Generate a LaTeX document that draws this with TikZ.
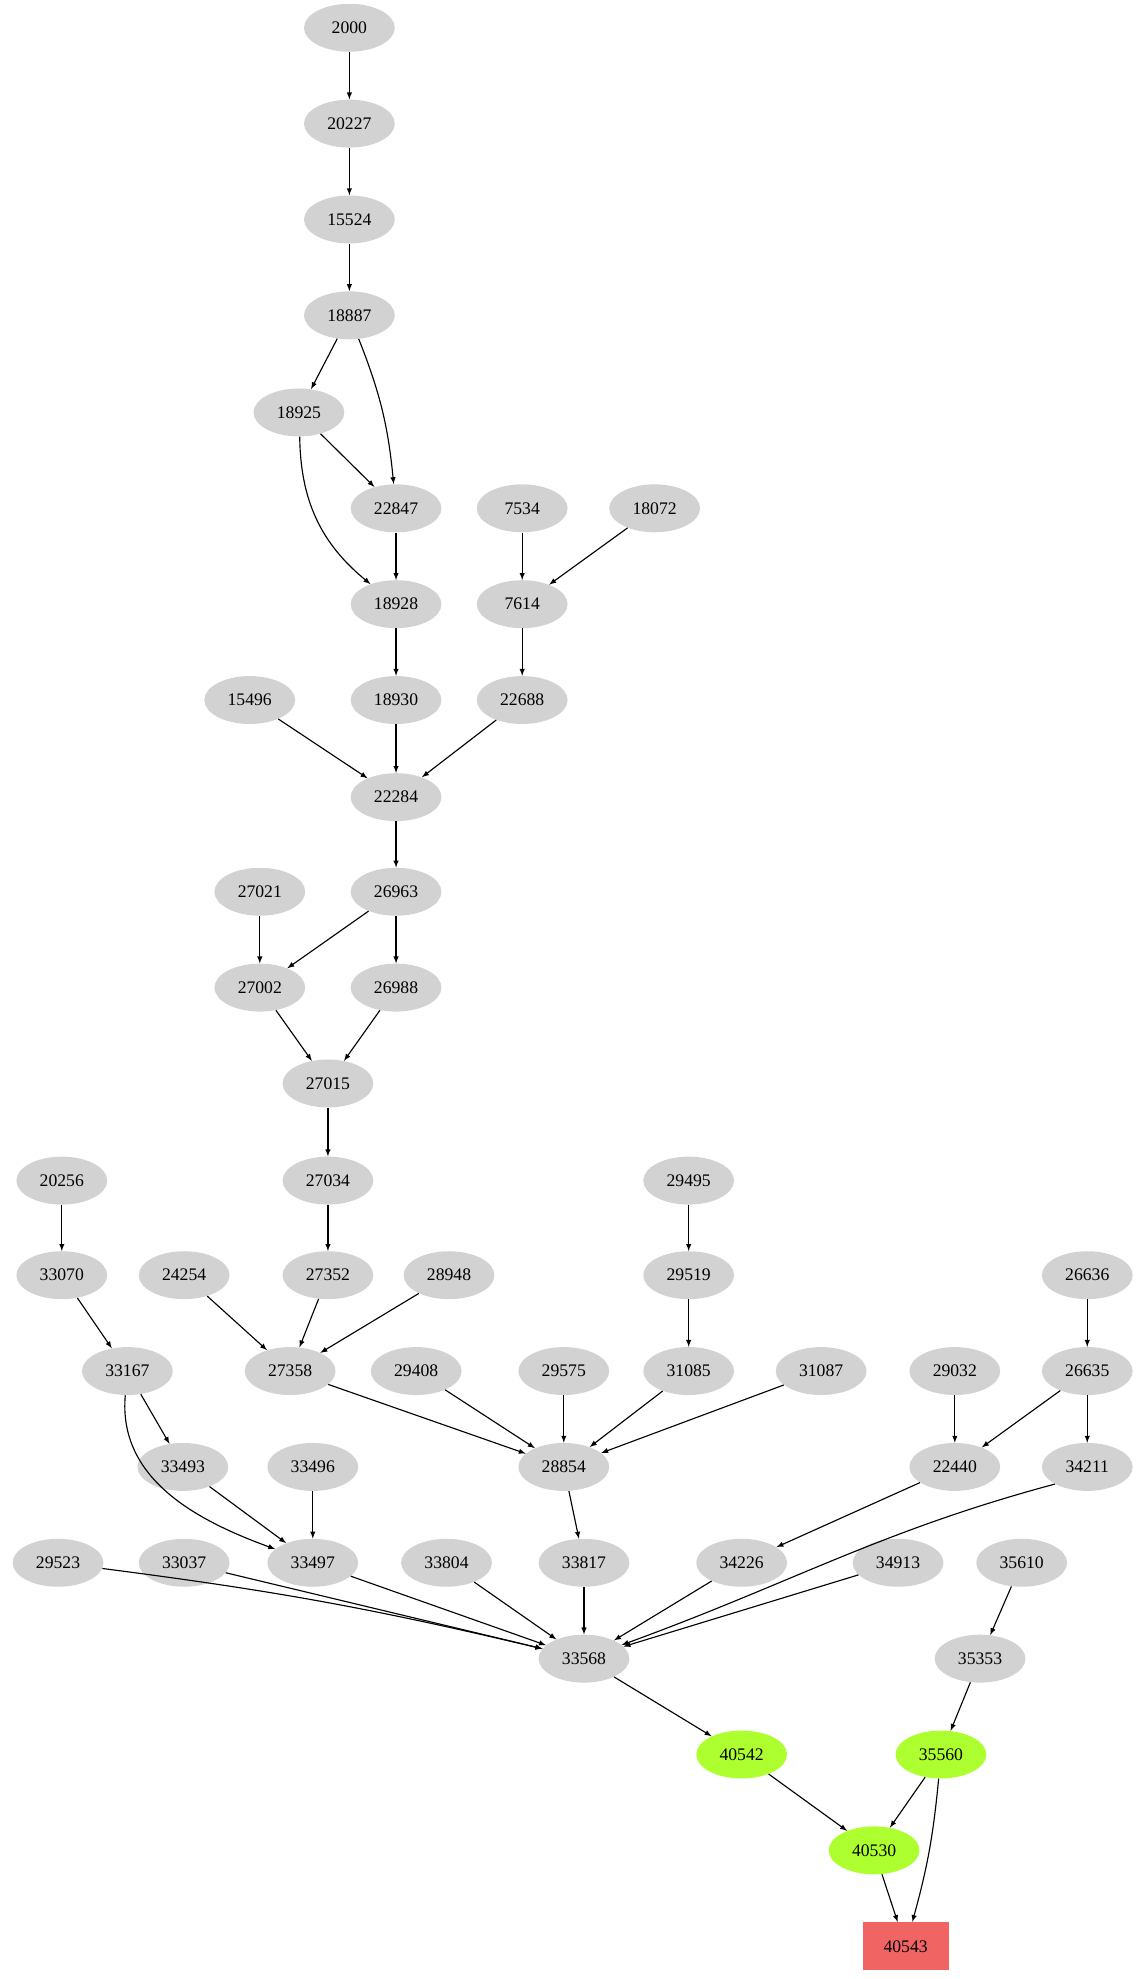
\documentclass[tikz,border=0pt]{standalone}
\usepackage{fontspec}
\setmainfont{Liberation Serif}
\usetikzlibrary{shapes.geometric}
\tikzset{
  gnode/.style={ellipse, fill=gray!35, minimum width=72pt, minimum height=38pt, inner sep=0pt, font=\fontsize{14}{16}\selectfont},
  hit/.style={gnode, fill={rgb,255:red,173;green,255;blue,47}},
  goal/.style={rectangle, fill={rgb,255:red,240;green,100;blue,100}, minimum width=68pt, minimum height=38pt, inner sep=0pt, font=\fontsize{14}{16}\selectfont},
  edge/.style={-latex, line width=0.9pt}
}
\begin{document}
\begin{tikzpicture}[x=1pt, y=-1pt]
            \useasboundingbox (0,0) rectangle (908,1569);
            % nodes, row by row
            \node[gnode] (n2000) at (277,22) {2000};
            \node[gnode] (n20227) at (277,98) {20227};
            \node[gnode] (n15524) at (277,174) {15524};
            \node[gnode] (n18887) at (277,250) {18887};
            \node[gnode] (n18925) at (237,327) {18925};
            \node[gnode] (n22847) at (314,403) {22847};
            \node[gnode] (n7534) at (414,403) {7534};
            \node[gnode] (n18072) at (519,403) {18072};
            \node[gnode] (n18928) at (314,479) {18928};
            \node[gnode] (n7614) at (414,479) {7614};
            \node[gnode] (n15496) at (198,555) {15496};
            \node[gnode] (n18930) at (314,555) {18930};
            \node[gnode] (n22688) at (414,555) {22688};
            \node[gnode] (n22284) at (314,632) {22284};
            \node[gnode] (n27021) at (206,707) {27021};
            \node[gnode] (n26963) at (314,707) {26963};
            \node[gnode] (n27002) at (206,783) {27002};
            \node[gnode] (n26988) at (314,783) {26988};
            \node[gnode] (n27015) at (260,859) {27015};
            \node[gnode] (n20256) at (49,936) {20256};
            \node[gnode] (n27034) at (260,936) {27034};
            \node[gnode] (n29495) at (546,936) {29495};
            \node[gnode] (n33070) at (49,1011) {33070};
            \node[gnode] (n24254) at (146,1011) {24254};
            \node[gnode] (n27352) at (260,1011) {27352};
            \node[gnode] (n28948) at (356,1011) {28948};
            \node[gnode] (n29519) at (546,1011) {29519};
            \node[gnode] (n26636) at (862,1011) {26636};
            \node[gnode] (n33167) at (101,1087) {33167};
            \node[gnode] (n27358) at (230,1087) {27358};
            \node[gnode] (n29408) at (330,1087) {29408};
            \node[gnode] (n29575) at (447,1087) {29575};
            \node[gnode] (n31085) at (546,1087) {31085};
            \node[gnode] (n31087) at (651,1087) {31087};
            \node[gnode] (n29032) at (757,1087) {29032};
            \node[gnode] (n26635) at (862,1087) {26635};
            \node[gnode] (n33493) at (145,1163) {33493};
            \node[gnode] (n33496) at (248,1163) {33496};
            \node[gnode] (n28854) at (447,1163) {28854};
            \node[gnode] (n22440) at (757,1163) {22440};
            \node[gnode] (n34211) at (862,1163) {34211};
            \node[gnode] (n29523) at (46,1239) {29523};
            \node[gnode] (n33037) at (146,1239) {33037};
            \node[gnode] (n33497) at (248,1239) {33497};
            \node[gnode] (n33804) at (354,1239) {33804};
            \node[gnode] (n33817) at (463,1239) {33817};
            \node[gnode] (n34226) at (588,1239) {34226};
            \node[gnode] (n34913) at (712,1239) {34913};
            \node[gnode] (n35610) at (810,1239) {35610};
            \node[gnode] (n33568) at (463,1315) {33568};
            \node[gnode] (n35353) at (777,1315) {35353};
            \node[hit] (n40542) at (588,1391) {40542};
            \node[hit] (n35560) at (746,1391) {35560};
            \node[hit] (n40530) at (693,1467) {40530};
            \node[goal] (n40543) at (718,1543) {40543};

            % edges
            \foreach \a/\b in {2000/20227, 20227/15524, 15524/18887, 18887/18925,
                18925/22847, 22847/18928, 7534/7614, 18072/7614, 18928/18930,
                7614/22688, 15496/22284, 18930/22284, 22688/22284, 22284/26963,
                27021/27002, 26963/27002, 26963/26988, 27002/27015, 26988/27015,
                27015/27034, 27034/27352, 20256/33070, 33070/33167, 24254/27358,
                27352/27358, 28948/27358, 29495/29519, 29519/31085, 26636/26635,
                27358/28854, 29408/28854, 29575/28854, 31085/28854, 31087/28854,
                29032/22440, 26635/22440, 26635/34211, 33167/33493, 33493/33497,
                33496/33497, 28854/33817, 22440/34226, 35610/35353,
                33037/33568, 33497/33568, 33804/33568, 33817/33568, 34226/33568,
                34913/33568, 33568/40542, 35353/35560, 40542/40530, 35560/40530,
                40530/40543}
                \draw[edge] (n\a) -- (n\b);
            \draw[edge] (n18887) to[bend left=8] (n22847);
            \draw[edge] (n18925) to[bend right=25] (n18928);
            \draw[edge] (n33167) to[out=-95, in=160] (n33497);
            \draw[edge] (n29523) to[bend left=3] (n33568);
            \draw[edge] (n34211.south west) to[out=-165, in=20] (n33568);
            \draw[edge] (n35560) to[bend left=5] (n40543);
        \end{tikzpicture}
\end{document}
